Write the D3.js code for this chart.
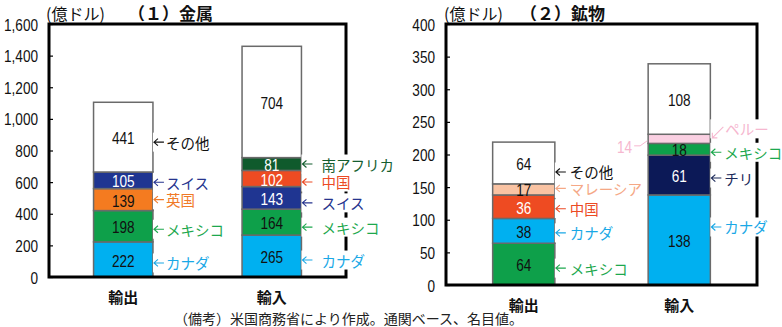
<!DOCTYPE html>
<html>
<head>
<meta charset="utf-8">
<script src="https://cdn.jsdelivr.net/npm/d3@7"></script>
<style>
  html, body { margin: 0; padding: 0; background: #fff; }
  svg { display: block; }
</style>
</head>
<body>
<svg id="chart" width="782" height="327"></svg>
<script>
// ---- data (億ドル) ----
const categories = ["輸出", "輸入"];

const metalExportNames  = ["カナダ", "メキシコ", "英国", "スイス", "その他"];
const metalExportValues = [222, 198, 139, 105, 441];
const metalImportNames  = ["カナダ", "メキシコ", "スイス", "中国", "南アフリカ", "その他"];
const metalImportValues = [265, 164, 143, 102, 81, 704];

const mineralExportNames  = ["メキシコ", "カナダ", "中国", "マレーシア", "その他"];
const mineralExportValues = [64, 38, 36, 17, 64];
const mineralImportNames  = ["カナダ", "チリ", "メキシコ", "ペルー", "その他"];
const mineralImportValues = [138, 61, 18, 14, 108];

const metalTicks   = [0, 200, 400, 600, 800, 1000, 1200, 1400, 1600];
const mineralTicks = [0, 50, 100, 150, 200, 250, 300, 350, 400];

const noteText = "（備考）米国商務省により作成。通関ベース、名目値。";

// ---- styles ----
const countryFill = {
  "カナダ": "#00b0f0", "メキシコ": "#0ea04a", "英国": "#f47b20", "スイス": "#1f3591",
  "中国": "#ee4b22", "南アフリカ": "#0f5a2c", "その他": "#ffffff",
  "マレーシア": "#f9c3a3", "チリ": "#0c1957", "ペルー": "#fad0e2"
};
const countryText = {
  "カナダ": "#1aa8e6", "メキシコ": "#1da84e", "英国": "#f07a28", "スイス": "#26348e",
  "中国": "#ec4a24", "南アフリカ": "#155e30", "その他": "#111111",
  "マレーシア": "#f5a886", "チリ": "#1c2a5a", "ペルー": "#f6b7cf"
};
const whiteValue = new Set(["スイス", "中国", "南アフリカ", "チリ"]);

const JP  = '"Noto Sans CJK JP", sans-serif';
const NUM = '"Liberation Sans", "Noto Sans", sans-serif';
const NARROW = 0.8;   // horizontal squeeze for the numerals

const svg = d3.select("#chart");

// a condensed number label centred on (cx, cy)
function numLabel(parent, cx, cy, text, anchor, size, fill) {
  return parent.append("text")
    .attr("transform", `translate(${cx},${cy}) scale(${NARROW},1)`)
    .attr("text-anchor", anchor).attr("dominant-baseline", "central")
    .attr("font-family", NUM).attr("font-size", size)
    .attr("fill", fill).text(text);
}

function drawPanel(opt) {
  const g = svg.append("g");
  const x = d3.scaleBand().domain(categories)
    .range([opt.x0, opt.x1]).paddingInner(0.6).paddingOuter(0.3);
  const y = d3.scaleLinear().domain([0, opt.max]).range([opt.yBottom, opt.yTop]);

  // stacked bars
  opt.bars.forEach((bar, bi) => {
    const cat = categories[bi];
    const ends = Array.from(d3.cumsum(bar.values));
    const segs = bar.names.map((n, i) => ({
      name: n, value: bar.values[i], y0: ends[i] - bar.values[i], y1: ends[i]
    }));
    const bx = x(cat), bw = x.bandwidth();

    g.append("g").selectAll("rect").data(segs).join("rect")
      .attr("x", bx).attr("width", bw)
      .attr("y", d => y(d.y1)).attr("height", d => y(d.y0) - y(d.y1))
      .attr("fill", d => countryFill[d.name])
      .attr("stroke", "#6a6a6a").attr("stroke-width", 1.5);

    // values inside segments (small ones go outside with a leader)
    segs.forEach(d => {
      const cy = y((d.y0 + d.y1) / 2);
      if (bar.outside && bar.outside.includes(d.name)) {
        g.append("path")
          .attr("d", `M${bx - 14},${cy + 7} L${bx - 8},${cy + 7} L${bx - 1},${cy + 2}`)
          .attr("fill", "none").attr("stroke", countryText[d.name]).attr("stroke-width", 1);
        numLabel(g, bx - 16, cy + 8, d.value, "end", 17, countryText[d.name]);
      } else {
        numLabel(g, bx + bw / 2, cy + 1, d.value, "middle", 17,
          whiteValue.has(d.name) ? "#ffffff" : "#111111");
      }
    });
    bar.segs = segs;
    bar.bx = bx; bar.bw = bw;
  });

  // frame and axis
  g.append("rect")
    .attr("x", opt.x0).attr("y", opt.yTop)
    .attr("width", opt.x1 - opt.x0).attr("height", opt.yBottom - opt.yTop)
    .attr("fill", "none").attr("stroke", "#000").attr("stroke-width", 3);

  const axis = d3.axisLeft(y).tickValues(opt.ticks).tickSize(-4).tickPadding(0)
    .tickFormat(d3.format(","));
  const ag = g.append("g").attr("transform", `translate(${opt.x0},0)`).call(axis);
  ag.select(".domain").remove();
  ag.selectAll(".tick line").attr("stroke", "#000").attr("stroke-width", 1.2);
  ag.selectAll(".tick text")
    .attr("x", null).attr("dy", null)
    .attr("transform", `translate(-11,0) scale(${NARROW},1)`)
    .attr("dominant-baseline", "central")
    .attr("font-family", NUM).attr("font-size", 17).attr("fill", "#111");

  // country annotations with arrows
  opt.bars.forEach(bar => {
    const ax = bar.bx + bar.bw + 1;
    bar.segs.forEach((d, i) => {
      const dy = bar.labelDy[i];
      if (dy === null) return;
      const col = countryText[d.name];
      const cy = y((d.y0 + d.y1) / 2) + dy;
      const lg = g.append("g");
      const bg = lg.append("rect").attr("fill", "#fff");
      let tx = ax + bar.gap;
      if (bar.diagonal && bar.diagonal.includes(d.name)) {
        const sy = y((d.y0 + d.y1) / 2);
        lg.append("path")
          .attr("d", `M${ax + 12},${cy - 2} L${ax + 1},${sy - 1} M${ax + 1},${sy - 6} L${ax + 1},${sy - 1} L${ax + 6},${sy - 1}`)
          .attr("fill", "none").attr("stroke", col).attr("stroke-width", 1.1);
        tx = ax + 14;
      } else {
        lg.append("path")
          .attr("d", `M${ax + 10},${cy} L${ax},${cy} M${ax + 4},${cy - 3.5} L${ax},${cy} L${ax + 4},${cy + 3.5}`)
          .attr("fill", "none").attr("stroke", col).attr("stroke-width", 1.1);
      }
      const t = lg.append("text").attr("x", tx).attr("y", cy)
        .attr("dominant-baseline", "central")
        .attr("font-family", JP).attr("font-size", 14.5)
        .attr("fill", col).text(d.name);
      const bb = t.node().getBBox();
      bg.attr("x", ax - 1).attr("y", bb.y + 1)
        .attr("width", bb.x + bb.width - ax + 2).attr("height", bb.height - 2);
    });
  });

  // titles and category labels
  g.append("text").attr("x", opt.unitX).attr("y", 13)
    .attr("dominant-baseline", "central").attr("font-family", JP)
    .attr("font-size", 16).attr("fill", "#111").text("(億ドル)");
  g.append("text").attr("x", opt.titleX).attr("y", 12)
    .attr("dominant-baseline", "central").attr("font-family", JP)
    .attr("font-size", 17).attr("font-weight", 700).attr("fill", "#111").text(opt.title);

  g.append("g").selectAll("text").data(categories).join("text")
    .attr("x", d => x(d) + x.bandwidth() / 2).attr("y", opt.yBottom + 19)
    .attr("text-anchor", "middle").attr("dominant-baseline", "central")
    .attr("font-family", JP).attr("font-size", 15).attr("font-weight", 700)
    .attr("fill", "#111").text(d => d);
}

drawPanel({
  x0: 49, x1: 346, yTop: 24, yBottom: 277, max: 1600, ticks: metalTicks,
  title: "（１）金属", titleX: 128, unitX: 46,
  bars: [
    { names: metalExportNames, values: metalExportValues, gap: 12,
      labelDy: [3.5, 3, 0, 2, 5] },
    { names: metalImportNames, values: metalImportValues, gap: 19,
      labelDy: [4, 5, 5, 3.5, 0, null] }
  ]
});

drawPanel({
  x0: 446, x1: 757, yTop: 24, yBottom: 285, max: 400, ticks: mineralTicks,
  title: "（２）鉱物", titleX: 520, unitX: 444,
  bars: [
    { names: mineralExportNames, values: mineralExportValues, gap: 14,
      labelDy: [4, 2, 2, -1, 9] },
    { names: mineralImportNames, values: mineralImportValues, gap: 13,
      labelDy: [-13, 3, 3, -10, null], outside: ["ペルー"], diagonal: ["ペルー"] }
  ]
});

svg.append("text").attr("x", 174).attr("y", 318)
  .attr("dominant-baseline", "central").attr("font-family", JP)
  .attr("font-size", 14).attr("fill", "#222").text(noteText);
</script>
</body>
</html>
